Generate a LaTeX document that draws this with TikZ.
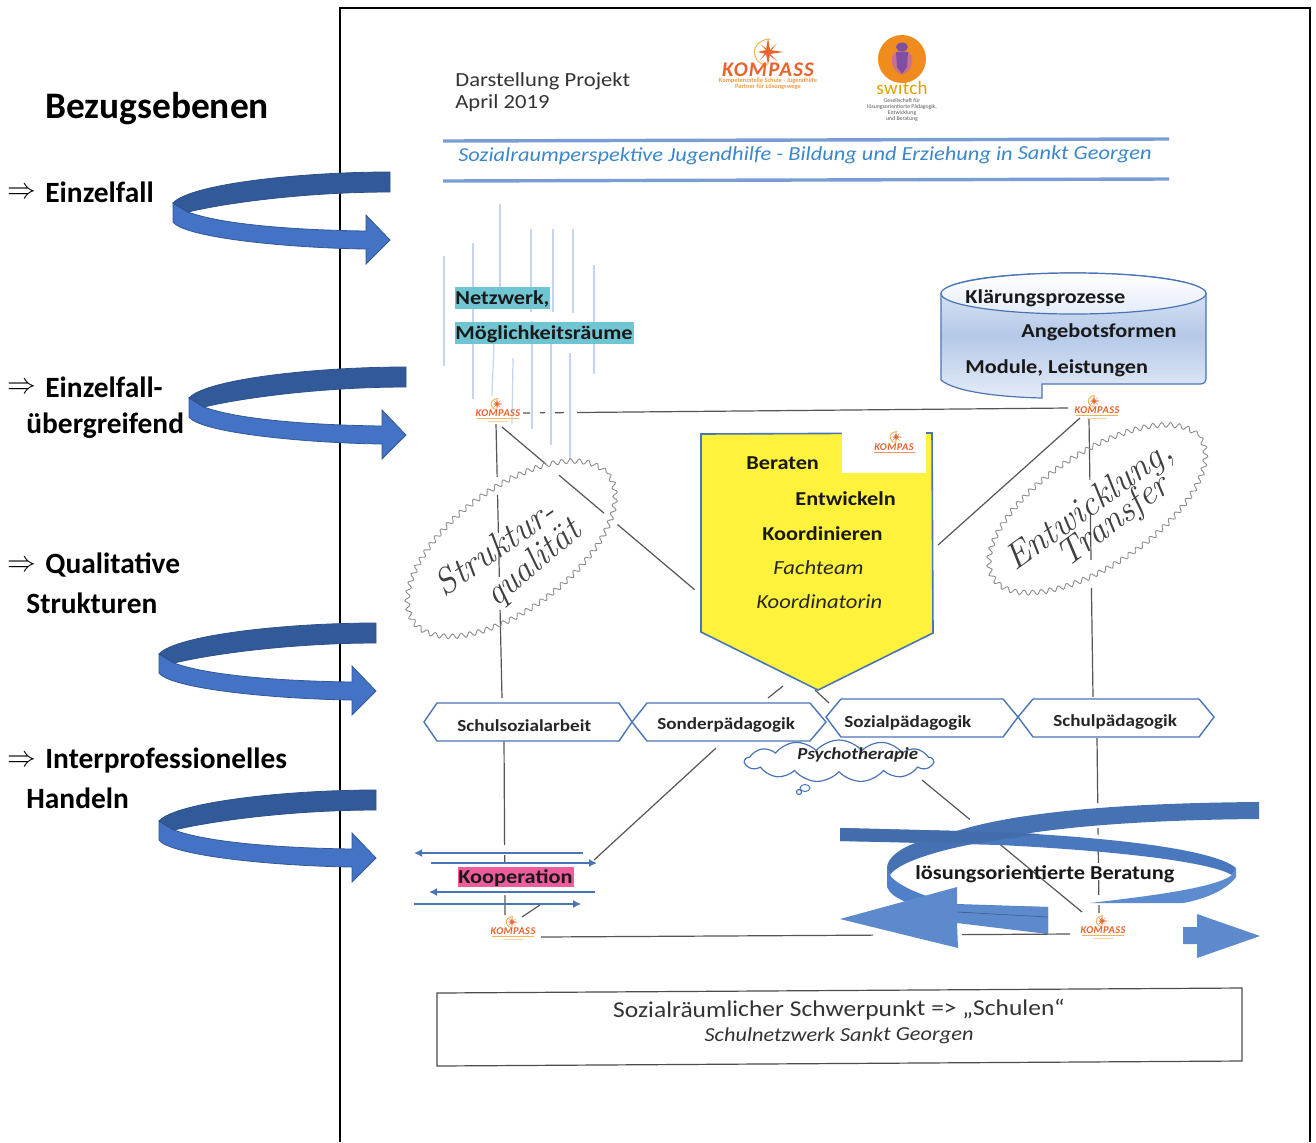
\documentclass[tikz,border=0pt]{standalone}
\usepackage{fontspec}
\usetikzlibrary{decorations.pathmorphing,shapes.symbols,arrows.meta,shapes.misc}
\newfontfamily\calfont{Carlito}
\newfontfamily\scanfont[FakeStretch=1.13]{Carlito}
\definecolor{spDark}{HTML}{325A99}
\definecolor{spLight}{HTML}{4472C4}
\definecolor{bandA}{HTML}{4A78BE}
\definecolor{bandB}{HTML}{5C8BD0}
\definecolor{bandC}{HTML}{4F80C8}
\definecolor{hexblue}{HTML}{4A74B8}
\definecolor{konn}{HTML}{555555}
\definecolor{kor}{HTML}{E8622A}
\definecolor{kye}{HTML}{F5B55A}
\definecolor{tealhl}{HTML}{6FC6D2}
\definecolor{pinkhl}{HTML}{EE5C9C}
\definecolor{yell}{HTML}{FFF23C}
\definecolor{paleb}{HTML}{C5D5F0}
\definecolor{cylm}{HTML}{B5C9E8}
\definecolor{cylb}{HTML}{E4ECF8}
\definecolor{swor}{HTML}{F08C1E}
\definecolor{swpu}{HTML}{7E4FA0}
\definecolor{swpi}{HTML}{C9708F}
\tikzset{
 x=0.5pt,y=-0.5pt,
 lab/.style={anchor=west,inner sep=0pt,yshift=-0.5pt,font=\calfont\bfseries\fontsize{14.7}{16}\selectfont},
 scanb/.style={anchor=west,inner sep=0pt,yshift=-0.6pt,font=\scanfont\bfseries\fontsize{9.85}{11}\selectfont,text=black!90},
 scani/.style={anchor=west,inner sep=0pt,yshift=-0.3pt,font=\scanfont\itshape\fontsize{10}{12}\selectfont,text=black!85},
 scanr/.style={anchor=west,inner sep=0pt,yshift=-0.9pt,font=\scanfont\fontsize{10}{12}\selectfont,text=black!80},
 hexlab/.style={anchor=west,inner sep=0pt,yshift=-0.4pt,font=\scanfont\bfseries\fontsize{8.45}{10}\selectfont,text=black!85},
 conn/.style={draw=konn,line width=0.6pt},
 hexa/.style={draw=hexblue,line width=0.7pt,fill=white},
 wavy/.style={draw=black!45,line width=0.45pt,decorate,decoration={snake,segment length=4.4pt,amplitude=1.2pt}},
 hand/.style={inner sep=0pt,text=black!75,font=\rmfamily\itshape\fontsize{18}{20}\selectfont\addfontfeatures{LetterSpace=9}},
 netz/.style={draw=paleb,line width=0.6pt},
 kooparr/.style={draw=hexblue,line width=1.2pt,-{Latex[length=4pt,width=4pt]}},
 ktext/.style={inner sep=0pt,text=kor,font=\calfont\bfseries\itshape\fontsize{5.2}{6}\selectfont\addfontfeatures{LetterSpace=4}},
 swsub/.style={inner sep=0pt,text=black!65,font=\calfont\fontsize{2.9}{3}\selectfont},
 kbsub/.style={inner sep=0pt,text=kye!70!kor,font=\calfont\bfseries\fontsize{3.2}{3.4}\selectfont},
}
% curved arrow at the left, origin = right end of its top band
\newcommand\curvedarrow[2]{%
 \begin{scope}[shift={(#1,#2)}]
  \path[fill=spLight,draw=spDark,line width=0.4pt] (-217,31) -- (-217,50)
    .. controls (-205,66) and (-100,76) .. (-24,77) -- (-24,92) -- (0,68) -- (-24,43) -- (-24,59)
    .. controls (-100,58) and (-170,52) .. (-202,40) -- cycle;
  \path[fill=spDark,draw=spDark!90!black,line width=0.4pt] (0,0)
    .. controls (-90,0) and (-200,12) .. (-217,31) -- (-202,40)
    .. controls (-160,30) and (-80,20) .. (0,20) -- cycle;
 \end{scope}}
% small logo: star and word
\newcommand\kstar[3]{%
 \begin{scope}[shift={(#1,#2)},scale=#3]
  \fill[kor] (0,-1.1)--(0.15,-0.15)--(1.2,0)--(0.15,0.15)--(0,1.0)--(-0.15,0.15)--(-0.8,0)--(-0.15,-0.15)--cycle;
  \fill[kor] (-0.6,-0.6)--(0.1,-0.1)--(0.7,-0.7)--(0.1,0.1)--(0.7,0.7)--(-0.1,0.1)--(-0.6,0.6)--(-0.1,-0.1)--cycle;
  \draw[kye,line width=0.5pt] (0.2,-1) .. controls (-0.8,-1) and (-1.2,-0.2) .. (-1,0.3) .. controls (-0.9,0.8) and (-0.4,1) .. (0,1);
 \end{scope}}
\newcommand\klogo[4]{% name, x of word, y of word, star x
 \kstar{#4}{#3-9}{5.5}
 \node[ktext] (#1) at (#2,#3) {KOMPASS};
 \draw[kye,line width=0.5pt] (#2-21,#3+5) -- (#2+21,#3+5);
 \draw[kye!60,line width=0.4pt] (#2-10,#3+8) -- (#2+10,#3+8);
}
\begin{document}
\begin{tikzpicture}
\useasboundingbox (0,0) rectangle (1316,1142);
\fill[white] (0,0) rectangle (1316,1142);
% page frame
\draw[black,line width=1pt] (340,1142) -- (340,8) -- (1310,8) -- (1310,1142);

% header
\node[scanr] (dp) at (455,79) {Darstellung Projekt};
\node[scanr] (ap) at (455,101) {April 2019};
\kstar{768}{52}{13}
\node[inner sep=0pt,text=kor,font=\calfont\bfseries\itshape\fontsize{10.4}{11}\selectfont\addfontfeatures{LetterSpace=6}] (kbig) at (768,70) {KOMPASS};
\node[kbsub] (kbig1) at (768,81) {Kompetenzstelle Schule - Jugendhilfe};
\node[kbsub] (kbig2) at (768,86.5) {Partner für Lösungswege};
% switch logo
\fill[swor] (902,59) circle [radius=24];
\fill[swpi] (902,51) .. controls (888,50) and (889,68) .. (900,74) -- (904,74) .. controls (915,68) and (916,50) .. (902,51) -- cycle;
\fill[swpu] (902,47) ellipse [x radius=6,y radius=4.5];
\fill[swpu] (896,52) -- (908,52) -- (907,67) -- (902,74) -- (897,67) -- cycle;
\node[inner sep=0pt,text=orange!60!yellow!90!black,font=\calfont\fontsize{9.5}{10}\selectfont\addfontfeatures{LetterSpace=2}] (swt) at (902,88) {switch};
\node[swsub] (sw1) at (902,101) {Gesellschaft für};
\node[swsub] (sw2) at (902,107) {lösungsorientierte Pädagogik,};
\node[swsub] (sw3) at (902,113) {Entwicklung};
\node[swsub] (sw4) at (902,119) {und Beratung};
% title band
\draw[line width=1.7pt,draw=spLight!70] (443,141) -- (1169,139);
\draw[line width=1.7pt,draw=spLight!70] (443,181) -- (1169,179);
\node[inner sep=0pt,text=spLight!85!cyan,rotate=0.2,font=\scanfont\itshape\fontsize{9.93}{11}\selectfont] (ttl) at (805,155.5) {Sozialraumperspektive Jugendhilfe - Bildung und Erziehung in Sankt Georgen};

% pale lines
\draw[netz] (444,256)--(444,366);
\draw[netz] (473,243)--(473,399);
\draw[netz] (500,204)--(500,287);
\draw[netz] (531,229)--(531,312);
\draw[netz] (532,321)--(532,429);
\draw[netz] (553,229)--(553,312);
\draw[netz] (551,340)--(551,445);
\draw[netz] (573,229)--(573,313);
\draw[netz] (570,353)--(570,460);
\draw[netz] (594,265)--(594,374);
\draw[netz] (494,343)--(492,396);
\draw[netz] (513,358)--(512,424);
% Netzwerk labels
\node[anchor=west,inner sep=0pt,fill=tealhl,minimum width=47.5pt,minimum height=11pt] (nw) at (455,298) {};
\node[anchor=west,inner sep=0pt,fill=tealhl,minimum width=89.5pt,minimum height=11pt] (mg) at (455,333) {};
\node[scanb] (nwt) at (455,298) {Netzwerk,};
\node[scanb] (mgt) at (455,333) {Möglichkeitsräume};

% cylinder
\path[top color=cylb,bottom color=cylb,middle color=cylm,draw=hexblue,line width=0.6pt]
  (941,293) -- (941,380) .. controls (955,392) and (1000,397) .. (1042,398) -- (1042,384) -- (1200,384)
  .. controls (1204,384) and (1206,382) .. (1206,378) -- (1206,293)
  .. controls (1200,280) and (1140,273) .. (1073,273) .. controls (1005,273) and (947,280) .. (941,293) -- cycle;
\draw[hexblue,line width=0.6pt,top color=white,bottom color=cylb] (1073.5,293.5) ellipse [x radius=132.5,y radius=20.5];
\node[scanb] (kl) at (965,297) {Klärungsprozesse};
\node[scanb] (ang) at (1021,331) {Angebotsformen};
\node[scanb] (mod) at (965,367) {Module, Leistungen};

% named ends of connectors
\coordinate (k1r) at (523,413); \coordinate (k2l) at (1068,408);
\coordinate (k1d) at (496,424); \coordinate (h1t) at (502,698);
\coordinate (h1b) at (504,738); \coordinate (k3t) at (505,915);
\coordinate (k1s) at (502,427); \coordinate (yl) at (695,590);
\coordinate (k2d) at (1089,419); \coordinate (h4t) at (1093,697);
\coordinate (h4b) at (1097,738); \coordinate (k4t) at (1099,913);
\coordinate (k2s) at (1080,418); \coordinate (yr) at (938,545);
\coordinate (yt1) at (783,686); \coordinate (h2t) at (768,698);
\coordinate (yt2) at (815,690); \coordinate (h3t) at (829,703);
\coordinate (h2b) at (716,748); \coordinate (koopr) at (594,860);
\coordinate (psy) at (922,780); \coordinate (k4s) at (1082,912);
\coordinate (k3r) at (541,937); \coordinate (k4l) at (1070,934);
\coordinate (k3s) at (540,905); \coordinate (k3u) at (522,917);

% connectors
\draw[conn,dash pattern=on 3.5pt off 5pt on 2.5pt off 5pt on 4.5pt off 6.5pt on 250pt] (k1r) -- (k2l);
\draw[conn,dash pattern=on 26.5pt off 9pt on 19pt off 10pt on 12pt off 16.5pt on 44pt] (k1d) -- (h1t);
\draw[conn,dash pattern=on 53.5pt off 5pt on 3.5pt off 16.5pt on 10pt] (h1b) -- (k3t);
\draw[conn,dash pattern=on 28.8pt off 8.5pt on 29.5pt off 8.8pt on 50.5pt] (k1s) -- (yl);
\draw[conn,dash pattern=on 30.5pt off 16.5pt on 23.5pt off 14pt on 54.5pt] (k2d) -- (h4t);
\draw[conn,dash pattern=on 32.5pt off 12.5pt on 3.5pt off 7.5pt on 6.5pt off 8.5pt on 7.5pt off 5pt on 4pt] (h4b) -- (k4t);
\draw[conn] (k2s) -- (yr);
\draw[conn] (yt1) -- (h2t);
\draw[conn] (yt2) -- (h3t);
\draw[conn] (h2b) -- (koopr);
\draw[conn,dash pattern=on 31pt off 20pt on 60pt] (psy) -- (k4s);
\draw[conn] (k3s) -- (k3u);

% yellow pentagon
\path[fill=yell,draw=hexblue,line width=0.8pt] (701,434) -- (701,632) -- (818,690) -- (933,633) -- (932,433) -- cycle;
\fill[white] (842,431) rectangle (926,473);
\kstar{896}{437}{5.5}
\node[ktext] (k5) at (894,447) {KOMPAS};
\draw[kor!70,line width=0.5pt] (874,452) -- (915,452);
\node[scanb] (ber) at (746,462) {Beraten};
\node[scanb] (ent) at (795,497) {Entwickeln};
\node[scanb] (koo) at (762,532) {Koordinieren};
\node[scani] (fach) at (773,567) {Fachteam};
\node[scani] (koor) at (756,601) {Koordinatorin};

% wavy ellipses and handwriting
\draw[wavy,rotate around={37:(510,547)}] (510,547) ellipse [x radius=122,y radius=60];
\node[hand,rotate=35] (s1) at (495,547) {Struktur-};
\node[hand,rotate=40] (s2) at (534,564) {qualität};
\draw[wavy,rotate around={34:(1096,507)}] (1096,507) ellipse [x radius=125,y radius=56];
\node[hand,rotate=36] (e1) at (1090,507) {Entwicklung,};
\node[hand,rotate=37] (e2) at (1114,522) {Transfer};

% hexagons
\path[hexa] (424,722) -- (437,703) -- (619,703) -- (632,722) -- (619,741) -- (437,741) -- cycle;
\path[hexa] (632,722) -- (647,703) -- (810,703) -- (826,722) -- (810,741) -- (647,741) -- cycle;
\path[hexa] (826,717) -- (841,699) -- (1003,699) -- (1018,717) -- (1003,737) -- (841,737) -- cycle;
\path[hexa] (1018,717) -- (1033,699) -- (1199,699) -- (1214,717) -- (1199,737) -- (1033,737) -- cycle;
\node[hexlab] (h1) at (457,725) {Schulsozialarbeit};
\node[hexlab] (h2) at (657,724) {Sonderpädagogik};
\node[hexlab] (h3) at (844,722) {Sozialpädagogik};
\node[hexlab] (h4) at (1053,721) {Schulpädagogik};

% thought cloud
\node[cloud,cloud puffs=13,cloud puff arc=100,aspect=4.5,draw=hexblue,fill=white,line width=0.6pt,inner sep=0pt,minimum width=94pt,minimum height=21pt] (cl) at (839,761) {};
\node[anchor=west,inner sep=0pt,font=\scanfont\bfseries\itshape\fontsize{8.4}{9}\selectfont,text=black!85] (psyt) at (797,755) {Psychotherapie};
\draw[hexblue,line width=0.5pt,fill=white] (805,788) ellipse [x radius=5,y radius=3.5];
\draw[hexblue,line width=0.6pt,fill=white] (799,792) circle [radius=2.5];

% Kooperation
\node[anchor=west,inner sep=0pt,fill=pinkhl,minimum width=58pt,minimum height=10pt] (kobg) at (458,877) {};
\node[scanb] (kot) at (458,877) {Kooperation};
\draw[kooparr] (583,853) -- (414,853);
\draw[kooparr] (431,863) -- (597,863);
\draw[kooparr] (595,892) -- (429,892);
\draw[draw=hexblue,line width=0.6pt,-{Latex[length=4pt,width=4pt]}] (414,904) -- (581,904);
\draw[draw=hexblue,line width=1.3pt] (414,904) -- (458,904);

% big spiral
\path[fill=bandA] (840,828) -- (1000,832) .. controls (1120,838) and (1215,850) .. (1236,868)
   -- (1232,875) .. controls (1210,862) and (1120,851) .. (1000,845) -- (840,841) -- cycle;
\path[fill=bandB] (1236,868) -- (1236,877) .. controls (1225,892) and (1200,900) .. (1183,903) -- (1090,903)
   .. controls (1150,896) and (1215,888) .. (1232,875) -- cycle;
\path[fill=bandC] (887,868) -- (887,887) .. controls (892,900) and (915,905) .. (935,912) -- (1048,934) -- (1048,907)
   -- (957,904) .. controls (925,898) and (896,885) .. (890,875) -- cycle;
\path[fill=bandA!95!black] (1259,802) .. controls (1120,803) and (1020,812) .. (960,830)
   -- (918,842) .. controls (900,848) and (887,858) .. (887,868) -- (890,875)
   .. controls (900,860) and (950,848) .. (978,843) .. controls (1030,830) and (1120,820) .. (1259,819) -- cycle;
\path[fill=bandA!90!black] (840,828) -- (1000,832) -- (1040,834) -- (978,843) -- (840,841) -- cycle;
\path[fill=bandC!92!white] (840,919) -- (957,887) -- (957,905) -- (1048,907) -- (1048,934) -- (957,923) -- (958,948) -- cycle;
\draw[bandA!70!black,line width=0.25pt] (957,912) -- (1048,917);
\path[fill=bandC!92!white] (1183,927) -- (1197,927) -- (1197,914) -- (1260,936) -- (1197,958) -- (1197,944) -- (1183,944) -- cycle;
\draw[conn,dash pattern=on 166pt off 44.5pt on 54pt] (k3r) -- (k4l);
\node[scanb,font=\scanfont\bfseries\fontsize{9.9}{11}\selectfont] (lo) at (915,873) {lösungsorientierte Beratung};

% KOMPASS logos
\klogo{k1}{498}{413}{497}
\klogo{k2}{1097}{410}{1094}
\klogo{k3}{513}{931}{512}
\klogo{k4}{1103}{930}{1102}

% bottom box
\draw[black!70,line width=0.6pt] (437,993) -- (1242,988) -- (1242,1061) -- (437,1066) -- cycle;
\node[inner sep=0pt,rotate=0.3,font=\scanfont\fontsize{11.3}{13}\selectfont,text=black!80] (b1) at (839,1010) {Sozialräumlicher Schwerpunkt => „Schulen“};
\node[inner sep=0pt,rotate=0.3,font=\scanfont\itshape\fontsize{9.9}{11}\selectfont,text=black!80] (b2) at (839,1036) {Schulnetzwerk Sankt Georgen};

% left column
\node[lab,font=\calfont\bfseries\fontsize{18.7}{20}\selectfont] (bez) at (45,108) {Bezugsebenen};
\node[lab,font=\fontsize{13.5}{15}\selectfont] (a1) at (7,192) {$\Rightarrow$};
\node[lab] (l1) at (45,191) {Einzelfall};
\node[lab,font=\fontsize{13.5}{15}\selectfont] (a2) at (7,387) {$\Rightarrow$};
\node[lab] (l2) at (45,386) {Einzelfall-};
\node[lab] (l2b) at (26,425) {übergreifend};
\node[lab,font=\fontsize{13.5}{15}\selectfont] (a3) at (7,565) {$\Rightarrow$};
\node[lab] (l3) at (45,564) {Qualitative};
\node[lab] (l3b) at (26,602) {Strukturen};
\node[lab,font=\fontsize{13.5}{15}\selectfont] (a4) at (7,760) {$\Rightarrow$};
\node[lab] (l4) at (45,759) {Interprofessionelles};
\node[lab] (l4b) at (26,797) {Handeln};
\curvedarrow{390}{172}
\curvedarrow{406}{367}
\curvedarrow{376}{623}
\curvedarrow{376}{790}
\end{tikzpicture}
\end{document}
